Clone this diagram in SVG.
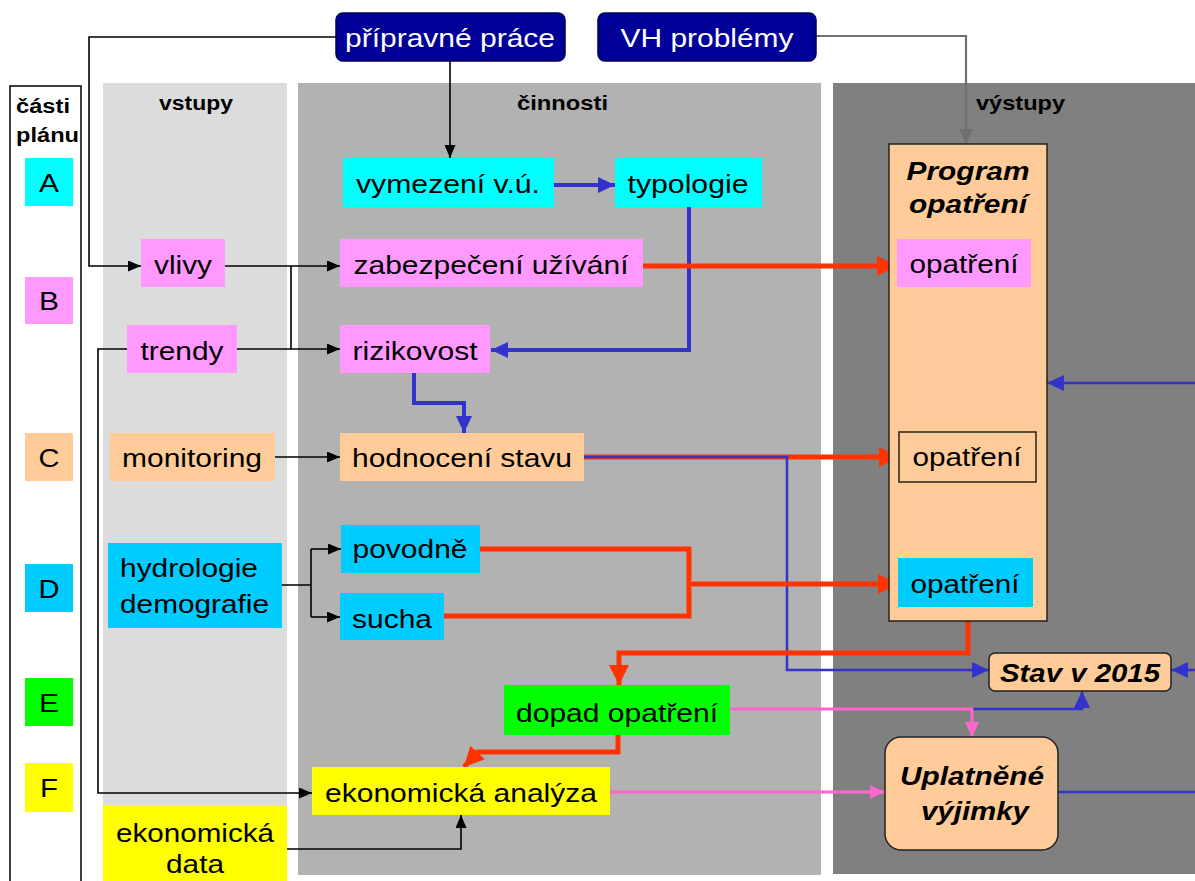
<svg xmlns="http://www.w3.org/2000/svg" width="1195" height="881" viewBox="0 0 1195 881">
<style>
text{font-family:"Liberation Sans",Arial,sans-serif;fill:#000}
.t{font-size:25px;text-anchor:middle}
.tl{font-size:25px}
.h{font-size:20px;font-weight:bold}
.bi{font-size:25px;font-weight:bold;font-style:italic;text-anchor:middle}
.w{fill:#fff}
.k{fill:none;stroke:#000;stroke-width:1.6}
.g{fill:none;stroke:#707070;stroke-width:2.2}
.b{fill:none;stroke:#3333CC;stroke-width:4}
.bt{fill:none;stroke:#3333CC;stroke-width:2.5}
.r{fill:none;stroke:#FF3300;stroke-width:5}
.p{fill:none;stroke:#FF66CC;stroke-width:3}
.cy{fill:#00FFFF}.pk{fill:#FF99FF}.pe{fill:#FFCC99}.lb{fill:#00CCFF}.gr{fill:#00FF00}.ye{fill:#FFFF00}
.nv{fill:#000099;stroke:#000055;stroke-width:1.5}
.ol{fill:#FFCC99;stroke:#222;stroke-width:1.5}
</style>
<defs>
<marker id="ak" markerUnits="userSpaceOnUse" markerWidth="13" markerHeight="11" refX="13" refY="5.5" orient="auto"><path d="M0,0 L13,5.5 L0,11 z" fill="#000"/></marker>
<marker id="ag" markerUnits="userSpaceOnUse" markerWidth="15" markerHeight="14" refX="15" refY="7" orient="auto"><path d="M0,0 L15,7 L0,14 z" fill="#707070"/></marker>
<marker id="ab" markerUnits="userSpaceOnUse" markerWidth="17" markerHeight="16" refX="17" refY="8" orient="auto"><path d="M0,0 L17,8 L0,16 z" fill="#3333CC"/></marker>
<marker id="ar" markerUnits="userSpaceOnUse" markerWidth="20" markerHeight="20" refX="20" refY="10" orient="auto"><path d="M0,0 L20,10 L0,20 z" fill="#FF3300"/></marker>
<marker id="ap" markerUnits="userSpaceOnUse" markerWidth="15" markerHeight="14" refX="15" refY="7" orient="auto"><path d="M0,0 L15,7 L0,14 z" fill="#FF66CC"/></marker>
</defs>
<rect width="1195" height="881" fill="#fff"/>

<g id="panels">
<rect x="10" y="86" width="71" height="800" fill="#fff" stroke="#000" stroke-width="1.5"/>
<rect x="103" y="83" width="184" height="722" fill="#DCDCDC"/>
<rect x="298" y="83" width="523" height="792" fill="#B2B2B2"/>
<rect x="833" y="83" width="362" height="791" fill="#808080"/>
<text class="h" x="16" y="113" textLength="54" lengthAdjust="spacingAndGlyphs">části</text>
<text class="h" x="16" y="142" textLength="63" lengthAdjust="spacingAndGlyphs">plánu</text>
<text class="h" x="159" y="110" textLength="74" lengthAdjust="spacingAndGlyphs">vstupy</text>
<text class="h" x="517" y="110" textLength="91" lengthAdjust="spacingAndGlyphs">činnosti</text>
<text class="h" x="976" y="110" textLength="89" lengthAdjust="spacingAndGlyphs">výstupy</text>
</g>

<g id="parts">
<rect class="cy" x="25" y="158" width="48" height="48"/><text class="t" x="49" y="192" textLength="20" lengthAdjust="spacingAndGlyphs">A</text>
<rect class="pk" x="25" y="277" width="48" height="47"/><text class="t" x="49" y="310" textLength="20" lengthAdjust="spacingAndGlyphs">B</text>
<rect class="pe" x="25" y="433" width="48" height="48"/><text class="t" x="49" y="467" textLength="21" lengthAdjust="spacingAndGlyphs">C</text>
<rect class="lb" x="25" y="564" width="48" height="48"/><text class="t" x="49" y="598" textLength="21" lengthAdjust="spacingAndGlyphs">D</text>
<rect class="gr" x="25" y="678" width="48" height="48"/><text class="t" x="49" y="712" textLength="20" lengthAdjust="spacingAndGlyphs">E</text>
<rect class="ye" x="25" y="763" width="48" height="49"/><text class="t" x="49" y="797" textLength="18" lengthAdjust="spacingAndGlyphs">F</text>
</g>

<g id="connectors">
<path class="k" d="M336,37 H89 V266 H141" marker-end="url(#ak)"/>
<path class="k" d="M450,61 V158" marker-end="url(#ak)"/>
<path class="k" d="M225,266 H340" marker-end="url(#ak)"/>
<path class="k" d="M291,266 V349"/>
<path class="k" d="M237,349 H340" marker-end="url(#ak)"/>
<path class="k" d="M127,349 H98 V793 H312" marker-end="url(#ak)"/>
<path class="k" d="M275,457 H340" marker-end="url(#ak)"/>
<path class="k" d="M282,585 H311 M311,549 V617"/>
<path class="k" d="M311,549 H341" marker-end="url(#ak)"/>
<path class="k" d="M311,617 H340" marker-end="url(#ak)"/>
<path class="k" d="M287,849 H461 V815" marker-end="url(#ak)"/>
<path class="g" d="M816,36 H966 V144" marker-end="url(#ag)"/>
<path class="b" d="M554,185 H615" marker-end="url(#ab)"/>
<path class="b" d="M689,207 V350 H491" marker-end="url(#ab)"/>
<path class="b" d="M414,373 V403 H464 V433" marker-end="url(#ab)"/>
<path class="r" d="M643,266 H897" marker-end="url(#ar)"/>
<path class="r" d="M584,457 H899" marker-end="url(#ar)"/>
<path class="bt" d="M584,457 H787 V670 H989" marker-end="url(#ab)"/>
<path class="r" d="M480,549 H689 V616 H444"/>
<path class="r" d="M689,584 H898" marker-end="url(#ar)"/>
<path class="r" d="M968,621 V653 H619 V685" marker-end="url(#ar)"/>
<path class="r" d="M618,735 V752 H478 L464,767" marker-end="url(#ar)"/>
<path class="bt" d="M1195,383 H1047" marker-end="url(#ab)"/>
<path class="bt" d="M1195,670 H1171" marker-end="url(#ab)"/>
<path class="bt" d="M972,709 H1082 V691" marker-end="url(#ab)"/>
<path class="bt" d="M1058,792 H1195"/>
<path class="p" d="M730,709 H972 V737" marker-end="url(#ap)"/>
<path class="p" d="M610,792 H885" marker-end="url(#ap)"/>
</g>

<g id="n-pripravne"><rect class="nv" x="336" y="13" width="229" height="48" rx="7"/><text class="t w" x="450" y="47" textLength="210" lengthAdjust="spacingAndGlyphs">přípravné práce</text></g>
<g id="n-vh"><rect class="nv" x="598" y="13" width="218" height="48" rx="7"/><text class="t w" x="707" y="47" textLength="173" lengthAdjust="spacingAndGlyphs">VH problémy</text></g>
<g id="n-vymezeni"><rect class="cy" x="343" y="158" width="211" height="49"/><text class="t" x="448" y="193" textLength="184" lengthAdjust="spacingAndGlyphs">vymezení v.ú.</text></g>
<g id="n-typologie"><rect class="cy" x="615" y="158" width="147" height="49"/><text class="t" x="688" y="193" textLength="121" lengthAdjust="spacingAndGlyphs">typologie</text></g>
<g id="n-vlivy"><rect class="pk" x="141" y="239" width="84" height="48"/><text class="t" x="183" y="274" textLength="58" lengthAdjust="spacingAndGlyphs">vlivy</text></g>
<g id="n-zabezpeceni"><rect class="pk" x="340" y="239" width="303" height="48"/><text class="t" x="491" y="274" textLength="275" lengthAdjust="spacingAndGlyphs">zabezpečení užívání</text></g>
<g id="n-trendy"><rect class="pk" x="127" y="325" width="110" height="48"/><text class="t" x="182" y="360" textLength="83" lengthAdjust="spacingAndGlyphs">trendy</text></g>
<g id="n-rizikovost"><rect class="pk" x="340" y="325" width="150" height="48"/><text class="t" x="415" y="360" textLength="125" lengthAdjust="spacingAndGlyphs">rizikovost</text></g>
<g id="n-monitoring"><rect class="pe" x="110" y="433" width="165" height="48"/><text class="t" x="192" y="467" textLength="140" lengthAdjust="spacingAndGlyphs">monitoring</text></g>
<g id="n-hodnoceni"><rect class="pe" x="340" y="433" width="244" height="48"/><text class="t" x="462" y="467" textLength="220" lengthAdjust="spacingAndGlyphs">hodnocení stavu</text></g>
<g id="n-hydrologie"><rect class="lb" x="108" y="543" width="174" height="85"/><text class="tl" x="120" y="577" textLength="138" lengthAdjust="spacingAndGlyphs">hydrologie</text><text class="tl" x="120" y="613" textLength="149" lengthAdjust="spacingAndGlyphs">demografie</text></g>
<g id="n-povodne"><rect class="lb" x="341" y="525" width="139" height="48"/><text class="t" x="410" y="558" textLength="115" lengthAdjust="spacingAndGlyphs">povodně</text></g>
<g id="n-sucha"><rect class="lb" x="340" y="593" width="104" height="47"/><text class="t" x="392" y="628" textLength="80" lengthAdjust="spacingAndGlyphs">sucha</text></g>
<g id="n-dopad"><rect class="gr" x="504" y="685" width="226" height="50"/><text class="t" x="617" y="722" textLength="202" lengthAdjust="spacingAndGlyphs">dopad opatření</text></g>
<g id="n-ekanalyza"><rect class="ye" x="312" y="767" width="298" height="48"/><text class="t" x="461" y="802" textLength="272" lengthAdjust="spacingAndGlyphs">ekonomická analýza</text></g>
<g id="n-ekdata"><rect class="ye" x="103" y="805" width="184" height="76"/><text class="t" x="195" y="842" textLength="158" lengthAdjust="spacingAndGlyphs">ekonomická</text><text class="t" x="195" y="873" textLength="58" lengthAdjust="spacingAndGlyphs">data</text></g>
<g id="n-program"><rect class="ol" x="889" y="144" width="158" height="477"/><text class="bi" x="968" y="180" textLength="123" lengthAdjust="spacingAndGlyphs">Program</text><text class="bi" x="968" y="213" textLength="118" lengthAdjust="spacingAndGlyphs">opatření</text></g>
<g id="n-opatreni-b"><rect class="pk" x="897" y="239" width="134" height="48"/><text class="t" x="964" y="273" textLength="109" lengthAdjust="spacingAndGlyphs">opatření</text></g>
<g id="n-opatreni-c"><rect class="ol" x="899" y="432" width="137" height="50"/><text class="t" x="967" y="466" textLength="109" lengthAdjust="spacingAndGlyphs">opatření</text></g>
<g id="n-opatreni-d"><rect class="lb" x="898" y="558" width="135" height="49"/><text class="t" x="965" y="593" textLength="109" lengthAdjust="spacingAndGlyphs">opatření</text></g>
<g id="n-stav"><rect class="ol" x="989" y="653" width="182" height="38" rx="6"/><text class="bi" x="1080" y="682" textLength="160" lengthAdjust="spacingAndGlyphs">Stav v 2015</text></g>
<g id="n-vyjimky"><rect class="ol" x="885" y="737" width="173" height="113" rx="16"/><text class="bi" x="972" y="785" textLength="144" lengthAdjust="spacingAndGlyphs">Uplatněné</text><text class="bi" x="975" y="820" textLength="108" lengthAdjust="spacingAndGlyphs">výjimky</text></g>
</svg>
